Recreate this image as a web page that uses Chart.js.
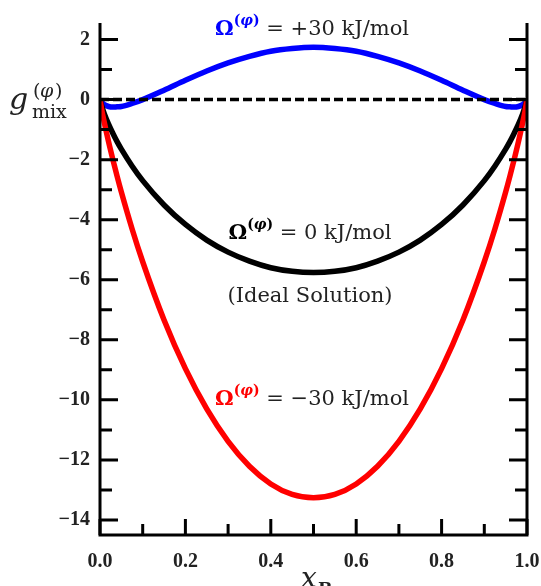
<!DOCTYPE html>
<html>
<head>
<meta charset="utf-8">
<script src="https://cdn.jsdelivr.net/npm/chart.js@4.4.1/dist/chart.umd.min.js"></script>
<style>
  html, body { margin: 0; padding: 0; background: #fff; }
  #myChart { display: block; }
</style>
</head>
<body>
<canvas id="myChart" width="541" height="586"></canvas>
<script>
// mole fraction of B
const xB = [0, 0.005, 0.01, 0.02, 0.03, 0.04, 0.05, 0.075, 0.1, 0.15, 0.2, 0.25, 0.3, 0.35, 0.4, 0.45, 0.5,
            0.55, 0.6, 0.65, 0.7, 0.75, 0.8, 0.85, 0.9, 0.925, 0.95, 0.96, 0.97, 0.98, 0.99, 0.995, 1];
// g_mix (kJ/mol) for the three interaction parameters
const gPlus30 = [0, -0.11, -0.17, -0.23, -0.25, -0.24, -0.23, -0.13, 0.00, 0.31, 0.64, 0.95, 1.22, 1.44, 1.61, 1.70, 1.74,
                 1.70, 1.61, 1.44, 1.22, 0.95, 0.64, 0.31, 0.00, -0.13, -0.23, -0.24, -0.25, -0.23, -0.17, -0.11, 0];
const gIdeal = [0, -0.26, -0.47, -0.82, -1.12, -1.40, -1.65, -2.21, -2.70, -3.51, -4.16, -4.68, -5.08, -5.38, -5.60, -5.72, -5.76,
                -5.72, -5.60, -5.38, -5.08, -4.68, -4.16, -3.51, -2.70, -2.21, -1.65, -1.40, -1.12, -0.82, -0.47, -0.26, 0];
const gMinus30 = [0, -0.41, -0.76, -1.40, -1.99, -2.55, -3.08, -4.30, -5.40, -7.34, -8.96, -10.30, -11.38, -12.21, -12.80, -13.15, -13.26,
                  -13.15, -12.80, -12.21, -11.38, -10.30, -8.96, -7.34, -5.40, -4.30, -3.08, -2.55, -1.99, -1.40, -0.76, -0.41, 0];
const zeroX = [0, 1];
const zeroY = [0, 0];

const xTicks = [0, 0.2, 0.4, 0.6, 0.8, 1.0];
const xMinor = [0.1, 0.3, 0.5, 0.7, 0.9];
const yTicks = [-14, -12, -10, -8, -6, -4, -2, 0, 2];
const yMinor = [-13, -11, -9, -7, -5, -3, -1, 1];

const SERIF = '"DejaVu Serif", "Liberation Serif", serif';
const TICKSERIF = '"Liberation Serif", "DejaVu Serif", serif';

function pts(xs, ys) {
    return xs.map((x, i) => ({ x: x, y: ys[i] }));
}

// rich text: parts drawn left to right, centred on cx
function drawRich(ctx, parts, cx, baseline) {
    let total = 0;
    parts.forEach(p => { ctx.font = p.font; total += ctx.measureText(p.text).width; });
    let x = cx - total / 2;
    ctx.textAlign = 'left';
    ctx.textBaseline = 'alphabetic';
    parts.forEach(p => {
        ctx.font = p.font;
        ctx.fillStyle = p.color;
        ctx.fillText(p.text, x, baseline + (p.dy || 0));
        x += ctx.measureText(p.text).width;
    });
}

function omegaLabel(color, rest) {
    return [
        { text: 'Ω', font: 'bold 21px ' + SERIF, color: color },
        { text: '(', font: 'bold 14px ' + SERIF, color: color, dy: -10 },
        { text: 'φ', font: 'italic bold 14px ' + SERIF, color: color, dy: -10 },
        { text: ')', font: 'bold 14px ' + SERIF, color: color, dy: -10 },
        { text: rest, font: '21px ' + SERIF, color: '#222' }
    ];
}

const framePlugin = {
    id: 'frame',
    afterDraw(chart) {
        const ctx = chart.ctx;
        const xs = chart.scales.x, ys = chart.scales.y;
        const a = chart.chartArea;
        const top = a.top, bottom = a.bottom, left = a.left, right = a.right;
        ctx.save();
        ctx.strokeStyle = '#000';
        ctx.lineWidth = 3;
        ctx.lineCap = 'butt';
        // frame: left, bottom, right
        ctx.beginPath();
        ctx.moveTo(left, top);
        ctx.lineTo(left, bottom);
        ctx.lineTo(right, bottom);
        ctx.lineTo(right, top);
        ctx.stroke();
        ctx.beginPath();
        xTicks.forEach(v => { const p = xs.getPixelForValue(v); ctx.moveTo(p, bottom); ctx.lineTo(p, bottom - 16); });
        xMinor.forEach(v => { const p = xs.getPixelForValue(v); ctx.moveTo(p, bottom); ctx.lineTo(p, bottom - 11); });
        yTicks.forEach(v => {
            const p = ys.getPixelForValue(v);
            ctx.moveTo(left, p); ctx.lineTo(left + 18, p);
            ctx.moveTo(right, p); ctx.lineTo(right - 18, p);
        });
        yMinor.forEach(v => {
            const p = ys.getPixelForValue(v);
            ctx.moveTo(left, p); ctx.lineTo(left + 12, p);
            ctx.moveTo(right, p); ctx.lineTo(right - 12, p);
        });
        ctx.stroke();

        // curve annotations
        drawRich(ctx, omegaLabel('#0000ff', ' = +30 kJ/mol'), 312, 35);
        drawRich(ctx, omegaLabel('#000', ' = 0 kJ/mol'), 310, 239);
        drawRich(ctx, [{ text: '(Ideal Solution)', font: '21px ' + SERIF, color: '#222' }], 310, 302);
        drawRich(ctx, omegaLabel('#ff0000', ' = −30 kJ/mol'), 312, 405);

        // axis titles
        ctx.fillStyle = '#222';
        ctx.textAlign = 'left';
        ctx.textBaseline = 'alphabetic';
        ctx.font = 'italic 30px ' + SERIF;
        ctx.fillText('g', 9, 109);
        ctx.font = '19px ' + SERIF;
        ctx.fillText('(', 33, 97);
        ctx.font = 'italic 19px ' + SERIF;
        ctx.fillText('φ', 40, 97);
        ctx.font = '19px ' + SERIF;
        ctx.fillText(')', 55, 97);
        ctx.fillText('mix', 32, 118);

        ctx.font = 'italic 28px ' + SERIF;
        ctx.fillText('x', 301, 587);
        ctx.font = 'bold 17px ' + SERIF;
        ctx.fillText('B', 318, 594);
        ctx.restore();
    }
};

const tickFont = { family: TICKSERIF, size: 20, weight: 'bold' };

const chart = new Chart(document.getElementById('myChart').getContext('2d'), {
    type: 'line',
    data: {
        datasets: [
            { data: pts(zeroX, zeroY), borderColor: '#000', borderWidth: 3.5, borderDash: [9, 4], pointRadius: 0 },
            { data: pts(xB, gMinus30), borderColor: '#ff0000', borderWidth: 5.5, pointRadius: 0, cubicInterpolationMode: 'monotone' },
            { data: pts(xB, gIdeal), borderColor: '#000', borderWidth: 5.5, pointRadius: 0, cubicInterpolationMode: 'monotone' },
            { data: pts(xB, gPlus30), borderColor: '#0000ff', borderWidth: 5.5, pointRadius: 0, cubicInterpolationMode: 'monotone' }
        ]
    },
    options: {
        responsive: false,
        animation: false,
        devicePixelRatio: 1,
        layout: { padding: { top: 23, right: 14, left: 0, bottom: 0 } },
        plugins: { legend: { display: false }, tooltip: { enabled: false } },
        scales: {
            x: {
                type: 'linear',
                min: 0,
                max: 1,
                afterBuildTicks: s => { s.ticks = xTicks.map(v => ({ value: v })); },
                afterFit: s => { s.height = 51; s.paddingLeft = 0; s.paddingRight = 0; },
                ticks: { callback: v => v.toFixed(1), font: tickFont, color: '#222', padding: 15, maxRotation: 0 },
                grid: { display: false, drawTicks: false },
                border: { display: false }
            },
            y: {
                type: 'linear',
                min: -14.5,
                max: 2.55,
                afterBuildTicks: s => { s.ticks = yTicks.map(v => ({ value: v })); },
                afterFit: s => { s.width = 100; s.paddingTop = 0; s.paddingBottom = 0; },
                ticks: { callback: v => (v < 0 ? '−' + Math.abs(v) : String(v)), font: tickFont, color: '#222', padding: 10 },
                grid: { display: false, drawTicks: false },
                border: { display: false }
            }
        }
    },
    plugins: [framePlugin]
});
</script>
</body>
</html>
